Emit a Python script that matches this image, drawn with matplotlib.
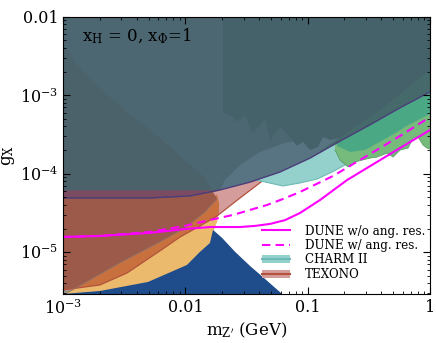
import matplotlib
matplotlib.use('Agg')
import matplotlib.pyplot as plt
from matplotlib.patches import Patch
from matplotlib.lines import Line2D
from matplotlib.ticker import FixedLocator, FixedFormatter, LogLocator, NullFormatter

plt.rcParams['font.family'] = 'DejaVu Serif'
plt.rcParams['mathtext.fontset'] = 'dejavuserif'

# DUNE sensitivity (w/o and w/ angular resolution)
dune_x = [1e-3, 2.007e-3, 5.14e-3, 9.94e-3, 1.59e-2, 2.80e-2, 3.72e-2, 4.93e-2, 6.54e-2, 8.67e-2, 0.1263, 0.210, 0.391, 0.626, 1.0]
dune_y = [1.56e-5, 1.61e-5, 1.76e-5, 1.97e-5, 2.09e-5, 2.09e-5, 2.16e-5, 2.29e-5, 2.56e-5, 3.16e-5, 4.62e-5, 8.3e-5, 1.49e-4, 2.32e-4, 3.6e-4]
dune_ang_x = [1e-3, 2.007e-3, 5.14e-3, 9.94e-3, 1.59e-2, 2.455e-2, 3.38e-2, 4.66e-2, 6.29e-2, 8.67e-2, 0.1614, 0.2945, 0.569, 1.0]
dune_ang_y = [1.56e-5, 1.61e-5, 1.81e-5, 2.16e-5, 2.57e-5, 2.98e-5, 3.45e-5, 3.99e-5, 4.76e-5, 5.85e-5, 9.35e-5, 1.63e-4, 3.02e-4, 5.27e-4]

# excluded regions (boundaries)
slate_x = [1e-3, 5.14e-3, 1.09e-2, 1.92e-2, 3.38e-2, 5.94e-2, 0.1047, 0.184, 0.324, 0.569, 1.0]
slate_y = [4.9e-5, 4.9e-5, 5.2e-5, 6.2e-5, 7.8e-5, 1.05e-4, 1.58e-4, 2.6e-4, 4.2e-4, 6.9e-4, 1.1e-3]
band_top = 6.2e-5

texono_x = [1e-3, 2.007e-3, 3.337e-3, 6.21e-3, 9.05e-3, 1.319e-2, 1.816e-2, 2.80e-2, 4.93e-2, 8.67e-2, 0.1525]
texono_y = [3.30e-6, 3.82e-6, 5.43e-6, 1.04e-5, 1.56e-5, 2.16e-5, 2.89e-5, 4.9e-5, 9.6e-5, 2.0e-4, 4.56e-4]

sn_x = [1e-3, 1e-3, 1.078e-3, 2.925e-3, 6.21e-3, 9.94e-3, 1.449e-2, 1.816e-2, 1.449e-2, 1.032e-2, 6.21e-3, 3.337e-3, 1.759e-3, 1.254e-3]
sn_y = [4.36e-3, 2.0e-6, 3.02e-6, 7.3e-6, 1.35e-5, 2.03e-5, 3.25e-5, 4.76e-5, 8.82e-5, 1.41e-4, 2.85e-4, 6.1e-4, 1.47e-3, 2.65e-3]

yel_x = [1e-3, 1e-3, 2.925e-3, 6.21e-3, 1.319e-2, 1.59e-2, 1.816e-2, 1.886e-2, 1.886e-2, 1.816e-2, 1.684e-2, 1.59e-2]
yel_y = [2e-6, 4.43e-6, 1.07e-5, 2.03e-5, 3.99e-5, 4.9e-5, 5.36e-5, 4.23e-5, 3.25e-5, 2.42e-5, 1.81e-5, 2e-6]

blue_x = [1e-3, 1e-3, 2.007e-3, 4.955e-3, 1.032e-2, 1.319e-2, 1.59e-2, 1.684e-2, 1.996e-2, 2.55e-2, 3.38e-2, 4.48e-2, 6.18e-2, 7.18e-2]
blue_y = [2e-6, 2.93e-6, 3.2e-6, 4.17e-6, 6.87e-6, 1.01e-5, 1.31e-5, 1.92e-5, 1.52e-5, 1.01e-5, 6.67e-6, 4.56e-6, 2.93e-6, 2e-6]

charm_x = [3.8e-2, 6.29e-2, 8.67e-2, 0.1194, 0.1583, 0.210, 0.2441]
charm_y = [8.3e-5, 6.97e-5, 7.62e-5, 8.55e-5, 1.05e-4, 1.33e-4, 1.58e-4]

g2_x = [0.1675, 0.184, 0.2139, 0.2441, 0.2785, 0.324, 0.3694, 0.4459, 0.4994, 0.569, 0.6622, 0.7277, 0.7993, 0.8782, 0.947, 1.0]
g2_y = [2.0e-4, 1.49e-4, 1.22e-4, 1.41e-4, 1.49e-4, 1.58e-4, 1.63e-4, 1.83e-4, 1.63e-4, 2.0e-4, 2.12e-4, 2.85e-4, 2.94e-4, 2.32e-4, 2.12e-4, 2.06e-4]
g1_x = [0.174, 0.2222, 0.2945, 0.4719, 0.6877, 1.0]
g1_y = [2.26e-4, 1.89e-4, 2.0e-4, 3.02e-4, 4.29e-4, 5.76e-4]

light_x = [1.816e-2, 2.11e-2, 2.80e-2, 4.08e-2, 6.54e-2, 0.1047, 0.184, 0.324, 0.324, 1.816e-2]
light_y = [5.2e-5, 8.3e-5, 1.29e-4, 1.89e-4, 2.46e-4, 2.85e-4, 3.40e-4, 4.29e-4, 1e-5, 1e-5]

dark_x = [2.034e-2, 2.034e-2, 2.455e-2, 2.65e-2, 3.08e-2, 3.51e-2, 3.93e-2, 4.48e-2, 4.93e-2, 5.94e-2, 6.79e-2,
          8.19e-2, 9.17e-2, 0.1047, 0.1216, 0.1336, 0.1525, 0.184, 0.2683, 0.569, 1.0, 1.0]
dark_y = [1e-2, 6.1e-4, 5.27e-4, 4.56e-4, 5.6e-4, 3.30e-4, 3.82e-4, 5.13e-4, 2.61e-4, 3.94e-4, 3.21e-4,
          2.26e-4, 2.54e-4, 2.0e-4, 2.19e-4, 2.94e-4, 2.69e-4, 2.85e-4, 3.82e-4, 6.9e-4, 1.1e-3, 1e-2]

tint_x = [0.1263, 0.391, 1.0, 1.0, 0.1263]
tint_y = [1.95e-4, 6.47e-4, 2.1e-3, 1e-5, 1e-5]

top = 1e-2


def region(ax, xs, ys, color, z, clip=None):
    p = ax.fill(xs, ys, color=color, lw=0, zorder=z)[0]
    if clip is not None:
        p.set_clip_path(clip)
    return p


fig = plt.figure(figsize=(4.36, 3.43), dpi=100)
ax = fig.add_axes([0.1445, 0.1429, 0.8417, 0.8084])
ax.set_xscale('log')
ax.set_yscale('log')

region(ax, yel_x, yel_y, '#ebba6c', 1.00)
region(ax, sn_x, sn_y, '#a0978a', 1.01)
region(ax, blue_x, blue_y, '#1f4c8a', 1.02)
tex = region(ax, texono_x + [texono_x[-1], 1e-3], texono_y + [top, top], '#d49c9a', 1.03)
region(ax, yel_x, yel_y, '#c8713f', 1.04, clip=tex)
region(ax, sn_x, sn_y, '#9c5a4b', 1.05, clip=tex)
ax.plot(texono_x, texono_y, color='#b3523c', lw=0.9, zorder=1.06)
ax.plot(sn_x[1:8], sn_y[1:8], color='#8f7468', lw=0.6, zorder=1.07)

region(ax, charm_x + [charm_x[-1], charm_x[0]], charm_y + [1e-3, 1e-3], '#94d0cc', 1.08)
ax.plot(charm_x, charm_y, color='#6cbab4', lw=0.8, zorder=1.09)
region(ax, g2_x + [1.0, g2_x[0]], g2_y + [top, top], '#76ba7c', 1.10)
region(ax, g1_x + [1.0, g1_x[0]], g1_y + [top, top], '#4aa885', 1.11)
ax.plot(g2_x, g2_y, color='#5a9e68', lw=0.6, zorder=1.12)

slate = region(ax, slate_x + [1.0, 1e-3], slate_y + [top, top], '#4d6772', 1.20)
region(ax, sn_x, sn_y, '#4c626a', 1.21, clip=slate)
region(ax, light_x, light_y, '#587483', 1.22, clip=slate)
region(ax, dark_x, dark_y, '#45626b', 1.23, clip=slate)
region(ax, tint_x, tint_y, '#466a6b', 1.24, clip=slate)
ax.fill_between(slate_x[:4], slate_y[:4], band_top, color='#7a4b61', lw=0, zorder=1.25)
ax.plot(slate_x, slate_y, color='#4a3d7a', lw=1.0, zorder=1.26)

ax.plot(dune_x, dune_y, color='#ff00ff', lw=1.5, zorder=2.2)
ax.plot(dune_ang_x, dune_ang_y, color='#ff00ff', lw=1.5, dashes=(4, 2.5), zorder=2.2)

ax.set_xlim(1e-3, 1)
ax.set_ylim(2.93e-6, 1e-2)

ax.xaxis.set_major_locator(FixedLocator([1e-3, 1e-2, 1e-1, 1]))
ax.xaxis.set_major_formatter(FixedFormatter([r'$10^{-3}$', '0.01', '0.1', '1']))
ax.yaxis.set_major_locator(FixedLocator([1e-5, 1e-4, 1e-3, 1e-2]))
ax.yaxis.set_major_formatter(FixedFormatter([r'$10^{-5}$', r'$10^{-4}$', r'$10^{-3}$', '0.01']))
for axis in (ax.xaxis, ax.yaxis):
    axis.set_minor_locator(LogLocator(base=10, subs=range(2, 10), numticks=20))
    axis.set_minor_formatter(NullFormatter())
ax.tick_params(which='both', direction='in', top=True, right=True, labelsize=11.5)
ax.tick_params(which='major', length=5, width=0.8)
ax.tick_params(which='minor', length=2.5, width=0.6)

ax.set_xlabel(r'$\mathrm{m_{Z^{\prime}}}$ (GeV)', fontsize=12, labelpad=2)
ax.set_ylabel(r'$\mathrm{g_X}$', fontsize=12, labelpad=2)
ax.text(0.052, 0.93, r'$\mathrm{x_H}$ = 0, $\mathrm{x_\Phi}$=1', transform=ax.transAxes,
        fontsize=12, va='center', ha='left', zorder=3)

handles = [Line2D([], [], color='#ff00ff', lw=1.5),
           Line2D([], [], color='#ff00ff', lw=1.5, dashes=(4, 2.5)),
           (Patch(facecolor='#94d0cc'), Line2D([], [], color='#6cbab4', lw=1.5)),
           (Patch(facecolor='#d49c9a'), Line2D([], [], color='#b3523c', lw=1.5))]
labels = ['DUNE w/o ang. res.', 'DUNE w/ ang. res.', 'CHARM II', 'TEXONO']
ax.legend(handles, labels, loc='lower right', bbox_to_anchor=(1.0, 0.03), frameon=False, fontsize=8.6,
          handlelength=2.4, labelspacing=0.12, handletextpad=1.2, borderaxespad=0.0)

fig.savefig('out.png', dpi=100)
